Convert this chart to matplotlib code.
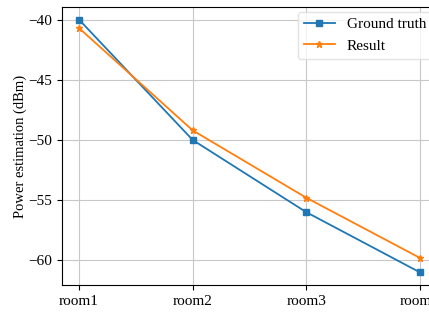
import matplotlib
matplotlib.use("Agg")
import matplotlib.pyplot as plt

rooms = ["room1", "room2", "room3", "room4"]
ground_truth = [-40.0, -50.0, -56.0, -61.0]
result = [-40.7, -49.2, -54.8, -59.8]

plt.rcParams["font.family"] = ["Liberation Serif", "DejaVu Serif"]
plt.rcParams["mathtext.fontset"] = "stix"

W, H = 429, 326
fig = plt.figure(figsize=(W / 100, H / 100), dpi=100)
# axes frame in pixel coordinates (right side runs past the canvas edge)
left, right, top, bottom = 62, 437, 7, 285
ax = fig.add_axes([left / W, 1 - bottom / H, (right - left) / W, (bottom - top) / H])

x = range(len(rooms))
ax.plot(x, ground_truth, color="#1f77b4", marker="s", markersize=5, lw=1.3, label="Ground truth")
ax.plot(x, result, color="#ff7f0e", marker="*", markersize=5, lw=1.3, label="Result")

ax.set_xticks(list(x))
ax.set_xticklabels(rooms)
ax.set_yticks([-40, -45, -50, -55, -60])
ax.grid(True, color="#c8c8c8", lw=0.8)
ax.tick_params(labelsize=11)
ax.set_ylabel("Power estimation (dBm)", fontsize=10.5, labelpad=1)
ax.legend(loc="upper right", fontsize=11, edgecolor="#dddddd", borderaxespad=0.3)

fig.savefig("out.png", dpi=100)
